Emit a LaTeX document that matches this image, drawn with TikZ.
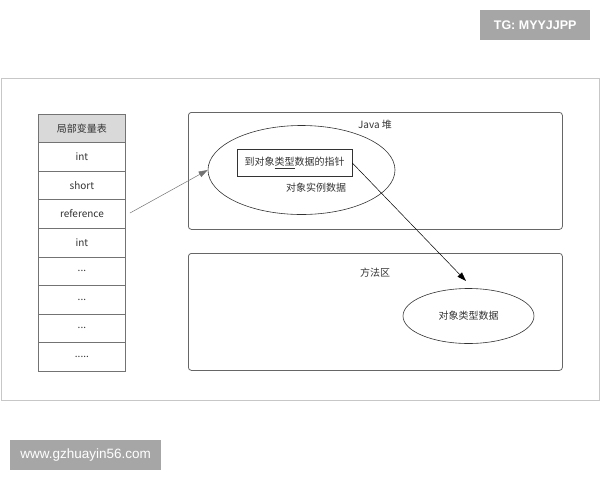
\documentclass[tikz,border=0pt]{standalone}
\usepackage{fontspec}
\setmainfont{Noto Sans CJK SC}
\newfontfamily\wmfont{Liberation Sans}
\usetikzlibrary{arrows.meta,shapes.geometric}
\begin{document}
\begin{tikzpicture}[x=1pt,y=-1pt,
  cell/.style={draw=black!55,line width=0.8pt,minimum width=87pt,minimum height=28.6pt,inner sep=0pt,font=\fontsize{10}{12}\selectfont,text=black!80,anchor=north west},
  area/.style={draw=black!60,line width=0.8pt,rounded corners=3pt,inner sep=0pt,anchor=north west},
  ell/.style={draw=black!80,ellipse,line width=0.6pt,inner sep=0pt},
  lbl/.style={font=\fontsize{10}{12}\selectfont,text=black!80,inner sep=0pt},
  conn/.style={line width=0.5pt,-{Triangle[length=9pt,width=6pt]}},
  wm/.style={fill=black!35,text=white,font=\wmfont\bfseries\fontsize{12.5}{14}\selectfont,inner sep=0pt,anchor=north west}
]
\useasboundingbox (0,0) rectangle (600,480);
\node[draw=black!22,line width=0.8pt,minimum width=598pt,minimum height=322pt,inner sep=0pt,anchor=north west] (outer) at (0.5,78) {};
% table
\node[cell,fill=black!15] (h) at (38,113.5) {局部变量表};
\node[cell] (r1) at (38,142.1) {int};
\node[cell] (r2) at (38,170.7) {short};
\node[cell] (r3) at (38,199.3) {reference};
\node[cell] (r4) at (38,227.9) {int};
\node[cell] (r5) at (38,256.5) {...};
\node[cell] (r6) at (38,285.1) {...};
\node[cell] (r7) at (38,313.7) {...};
\node[cell] (r8) at (38,342.3) {.....};
% heap
\node[area,minimum width=374pt,minimum height=117pt] (heap) at (188,112) {};
\node[lbl] (heapl) at (375,125) {Java 堆};
\node[ell,minimum width=187pt,minimum height=89pt] (obj) at (301.5,170) {};
\node[draw=black!80,line width=0.7pt,minimum width=115pt,minimum height=27pt,inner sep=0pt,font=\fontsize{10}{12}\selectfont,text=black!80] (ptr) at (294.5,163) {到对象\underline{类型}数据的指针};
\node[lbl] (objl) at (316,188) {对象实例数据};
% method area
\node[area,minimum width=374pt,minimum height=117pt] (meth) at (188,253) {};
\node[lbl] (methl) at (375,273) {方法区};
\node[ell,minimum width=131pt,minimum height=55pt,font=\fontsize{10}{12}\selectfont,text=black!80] (type) at (468.5,316) {对象类型数据};
% connectors
\coordinate (s1) at (130,213);
\coordinate (e2) at (466,281);
\draw[conn,draw=black!55] (s1) -- (obj.west);
\draw[conn] (ptr.east) -- (e2);
% watermarks
\node[wm,minimum width=110pt,minimum height=30pt] (wm1) at (480,10) {TG: MYYJJPP};
\node[wm,minimum width=151pt,minimum height=30pt,font=\wmfont\fontsize{13.5}{15}\selectfont] (wm2) at (10,440) {www.gzhuayin56.com};
\end{tikzpicture}
\end{document}
